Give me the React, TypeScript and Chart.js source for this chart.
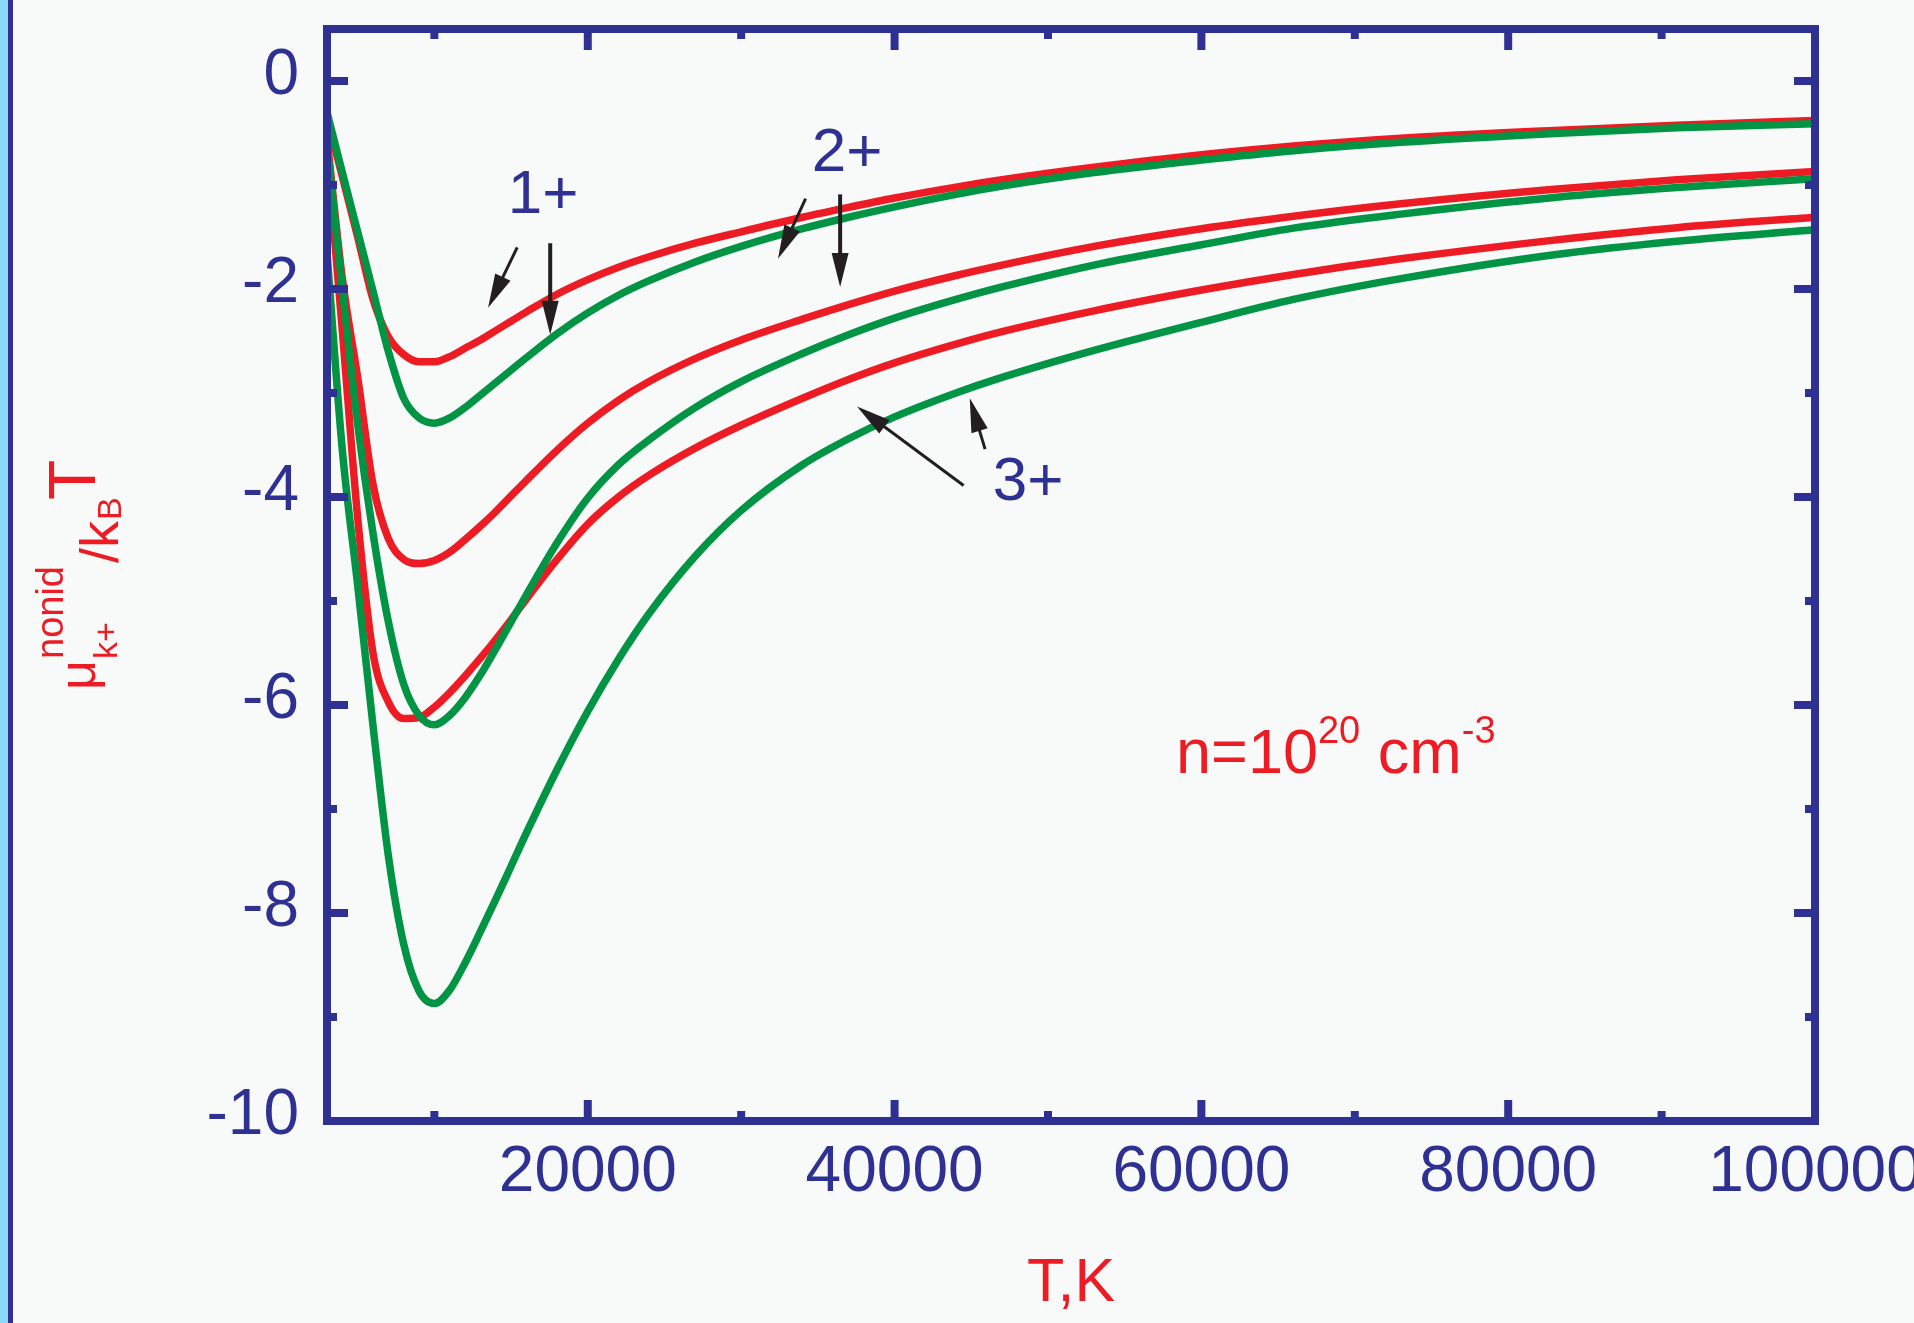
import React, { useEffect, useRef } from "react";
import { Chart, registerables } from "chart.js";

Chart.register(...registerables);

// ---------------- data ----------------
const temperatureK = [
  3000, 4000, 5000, 6000, 7000, 8000, 9000, 10000, 11000, 12000, 13000, 14000, 15000, 16000,
  18000, 20000, 22000, 24000, 27000, 30000, 34000, 37000, 40000, 44000, 47000,
  53000, 60000, 66000, 73000, 83000, 91000, 100000,
];

// charge 1+
const mu1Red = [
  -0.35, -0.92, -1.5, -2.1, -2.46, -2.63, -2.7, -2.7, -2.65, -2.57, -2.49, -2.4, -2.31, -2.22,
  -2.05, -1.91, -1.79, -1.69, -1.56, -1.45, -1.31, -1.215, -1.125, -1.02, -0.95,
  -0.83, -0.71, -0.625, -0.55, -0.475, -0.425, -0.38,
];
const mu1Green = [
  -0.3, -0.88, -1.45, -2.02, -2.6, -3.05, -3.24, -3.29, -3.24, -3.14, -3.02, -2.9, -2.78, -2.66,
  -2.43, -2.23, -2.06, -1.92, -1.74, -1.59, -1.42, -1.31, -1.21, -1.09, -1.01,
  -0.88, -0.76, -0.67, -0.59, -0.505, -0.45, -0.41,
];
// charge 2+
const mu2Red = [
  -0.55, -1.9, -2.85, -3.88, -4.4, -4.6, -4.64, -4.61, -4.53, -4.41, -4.28, -4.14, -3.99, -3.84,
  -3.55, -3.29, -3.07, -2.89, -2.67, -2.49, -2.29, -2.15, -2.02, -1.87, -1.77,
  -1.59, -1.42, -1.3, -1.18, -1.04, -0.95, -0.87,
];
const mu2Green = [
  -0.6, -2.0, -3.3, -4.35, -5.2, -5.8, -6.1, -6.19, -6.1, -5.93, -5.71, -5.46, -5.2, -4.94,
  -4.44, -4.01, -3.69, -3.45, -3.14, -2.89, -2.62, -2.44, -2.28, -2.1, -1.98,
  -1.77, -1.575, -1.415, -1.28, -1.12, -1.025, -0.94,
];
// charge 3+
const mu3Red = [
  -0.65, -2.4, -4.2, -5.5, -5.97, -6.13, -6.12, -6.02, -5.88, -5.72, -5.55, -5.37, -5.18, -4.98,
  -4.6, -4.26, -4.0, -3.79, -3.53, -3.31, -3.05, -2.87, -2.71, -2.53, -2.41,
  -2.21, -2.01, -1.86, -1.71, -1.53, -1.41, -1.31,
];
const mu3Green = [
  -1.65, -3.55, -4.85, -6.2, -7.45, -8.3, -8.75, -8.87, -8.74, -8.48, -8.18, -7.87, -7.55, -7.23,
  -6.62, -6.06, -5.56, -5.12, -4.57, -4.13, -3.69, -3.44, -3.23, -3.0, -2.85,
  -2.59, -2.32, -2.1, -1.9, -1.67, -1.54, -1.43,
];

const xTickLabels = [20000, 40000, 60000, 80000, 100000];
const xMinorTicks = [10000, 30000, 50000, 70000, 90000];
const yTickLabels = [0, -2, -4, -6, -8, -10];
const yMinorTicks = [-1, -3, -5, -7, -9];

// annotation anchors in data units [T, value]
const chargeLabels = [
  { text: "1+", at: [17080, -1.27] },
  { text: "2+", at: [36900, -0.865] },
  { text: "3+", at: [48700, -4.03] },
];
const arrows = [
  { from: [15400, -1.6], to: [13500, -2.18], w: 3 },
  { from: [17550, -1.56], to: [17550, -2.44], w: 4 },
  { from: [34200, -1.13], to: [32400, -1.71], w: 3 },
  { from: [36450, -1.09], to: [36450, -1.98], w: 4 },
  { from: [44500, -3.89], to: [37550, -3.13], w: 3 },
  { from: [45900, -3.54], to: [44900, -3.05], w: 3 },
];
const densityLabelAt = [58350, -6.65];

// ---------------- styles ----------------
const FONT = '"Liberation Sans", Arial, sans-serif';
const NAVY = "#2e3192";
const RED = "#ed1c24";
const GREEN = "#009444";
const ARROW = "#231f20";
const BG = "#f8fafa";

const toPts = (vals: number[]) => vals.map((v, i) => ({ x: temperatureK[i], y: v }));

const decorPlugin = {
  id: "decor",
  beforeDraw(chart: any) {
    const ctx = chart.ctx;
    ctx.save();
    ctx.fillStyle = BG;
    ctx.fillRect(0, 0, chart.width, chart.height);
    ctx.fillStyle = "#8dd8f8";
    ctx.fillRect(0, 0, 8, chart.height);
    ctx.fillStyle = NAVY;
    ctx.fillRect(8, 0, 5, chart.height);
    ctx.restore();
  },
  afterDatasetsDraw(chart: any) {
    const ctx = chart.ctx;
    const a = chart.chartArea;
    const xs = chart.scales.x;
    const ys = chart.scales.y;
    ctx.save();

    // frame
    ctx.strokeStyle = NAVY;
    ctx.lineWidth = 8;
    ctx.lineJoin = "miter";
    ctx.strokeRect(a.left, a.top, a.right - a.left, a.bottom - a.top);

    // inward ticks
    const MAJOR = 21;
    const MINOR = 10;
    ctx.lineCap = "butt";
    const seg = (x1: number, y1: number, x2: number, y2: number) => {
      ctx.beginPath();
      ctx.moveTo(x1, y1);
      ctx.lineTo(x2, y2);
      ctx.stroke();
    };
    const xt = (vals: number[], len: number) => {
      for (const v of vals) {
        const px = xs.getPixelForValue(v);
        seg(px, a.bottom, px, a.bottom - len);
        seg(px, a.top, px, a.top + len);
      }
    };
    const yt = (vals: number[], len: number) => {
      for (const v of vals) {
        const py = ys.getPixelForValue(v);
        seg(a.left, py, a.left + len, py);
        seg(a.right, py, a.right - len, py);
      }
    };
    xt(xTickLabels, MAJOR);
    xt(xMinorTicks, MINOR);
    yt(yTickLabels, MAJOR);
    yt(yMinorTicks, MINOR);

    // arrows
    ctx.strokeStyle = ARROW;
    ctx.fillStyle = ARROW;
    for (const ar of arrows) {
      const x1 = xs.getPixelForValue(ar.from[0]);
      const y1 = ys.getPixelForValue(ar.from[1]);
      const x2 = xs.getPixelForValue(ar.to[0]);
      const y2 = ys.getPixelForValue(ar.to[1]);
      const ang = Math.atan2(y2 - y1, x2 - x1);
      const hl = 34;
      const hw = 8.5;
      const bx = x2 - hl * Math.cos(ang);
      const by = y2 - hl * Math.sin(ang);
      ctx.lineWidth = ar.w;
      seg(x1, y1, bx + 2 * Math.cos(ang), by + 2 * Math.sin(ang));
      ctx.beginPath();
      ctx.moveTo(x2, y2);
      ctx.lineTo(bx + hw * Math.sin(ang), by - hw * Math.cos(ang));
      ctx.lineTo(bx - hw * Math.sin(ang), by + hw * Math.cos(ang));
      ctx.closePath();
      ctx.fill();
    }

    // charge labels
    ctx.fillStyle = NAVY;
    ctx.font = `62px ${FONT}`;
    ctx.textAlign = "center";
    ctx.textBaseline = "alphabetic";
    for (const l of chargeLabels) {
      ctx.fillText(l.text, xs.getPixelForValue(l.at[0]), ys.getPixelForValue(l.at[1]));
    }

    // density label
    ctx.fillStyle = RED;
    ctx.textAlign = "left";
    let px = xs.getPixelForValue(densityLabelAt[0]);
    const py = ys.getPixelForValue(densityLabelAt[1]);
    const piece = (t: string, size: number, dy: number) => {
      ctx.font = `${size}px ${FONT}`;
      ctx.fillText(t, px, py + dy);
      px += ctx.measureText(t).width;
    };
    piece("n=10", 63, 0);
    piece("20", 38, -30);
    piece(" cm", 63, 0);
    piece("-3", 38, -30);

    // x title
    ctx.font = `61px ${FONT}`;
    ctx.textAlign = "center";
    ctx.fillText("T,K", (a.left + a.right) / 2, 1301);

    // y title (rotated, reads bottom to top)
    ctx.textAlign = "left";
    ctx.rotate(-Math.PI / 2);
    const yp = (t: string, size: number, yStart: number, baseX: number) => {
      ctx.font = `${size}px ${FONT}`;
      ctx.fillText(t, -yStart, baseX);
    };
    yp("\u03bc", 52, 690, 95);
    yp("k+", 34, 659, 117);
    yp("nonid", 38, 659, 63);
    yp("/k", 54, 563, 118);
    yp("B", 34, 520, 121);
    yp("T", 66, 500, 95);

    ctx.restore();
  },
};

export default function App() {
  const canvasRef = useRef<HTMLCanvasElement | null>(null);

  useEffect(() => {
    document.body.style.margin = "0";
    document.body.style.background = BG;
    const canvas = canvasRef.current;
    if (!canvas) return;

    const line = (label: string, vals: number[], color: string) => ({
      label,
      data: toPts(vals),
      borderColor: color,
      backgroundColor: color,
      borderWidth: 7.5,
      pointRadius: 0,
      cubicInterpolationMode: "monotone" as const,
      fill: false,
      borderJoinStyle: "miter" as const,
      borderCapStyle: "butt" as const,
    });

    const chart = new Chart(canvas, {
      type: "line",
      data: {
        datasets: [
          // greens first so they are painted on top
          line("1+ green", mu1Green, GREEN),
          line("2+ green", mu2Green, GREEN),
          line("3+ green", mu3Green, GREEN),
          line("1+ red", mu1Red, RED),
          line("2+ red", mu2Red, RED),
          line("3+ red", mu3Red, RED),
        ],
      },
      options: {
        animation: false,
        responsive: false,
        maintainAspectRatio: false,
        layout: { padding: { left: 0, right: 99, top: 29, bottom: 0 } },
        plugins: { legend: { display: false }, tooltip: { enabled: false } },
        scales: {
          x: {
            type: "linear",
            position: "bottom",
            min: 3000,
            max: 100000,
            afterBuildTicks: (s: any) => {
              s.ticks = xTickLabels.map((v) => ({ value: v }));
            },
            afterFit: (s: any) => {
              s.height = 202;
              s.paddingLeft = 0;
              s.paddingRight = 0;
            },
            grid: { display: false, drawTicks: false },
            border: { display: false },
            ticks: {
              color: NAVY,
              font: { family: FONT, size: 64 },
              padding: 14,
              maxRotation: 0,
              minRotation: 0,
              autoSkip: false,
              callback: (v: any) => String(v),
            },
          },
          y: {
            type: "linear",
            min: -10,
            max: 0.5,
            afterBuildTicks: (s: any) => {
              s.ticks = yTickLabels.map((v) => ({ value: v }));
            },
            afterFit: (s: any) => {
              s.width = 327;
              s.paddingTop = 0;
              s.paddingBottom = 0;
            },
            grid: { display: false, drawTicks: false },
            border: { display: false },
            ticks: {
              color: NAVY,
              font: { family: FONT, size: 64 },
              padding: 28,
              labelOffset: -5,
              autoSkip: false,
              callback: (v: any) => String(v),
            },
          },
        },
      },
      plugins: [decorPlugin],
    } as any);

    return () => chart.destroy();
  }, []);

  return (
    <div style={{ width: 1914, height: 1323, position: "relative" }}>
      <canvas ref={canvasRef} width={1914} height={1323} style={{ display: "block" }} />
    </div>
  );
}
